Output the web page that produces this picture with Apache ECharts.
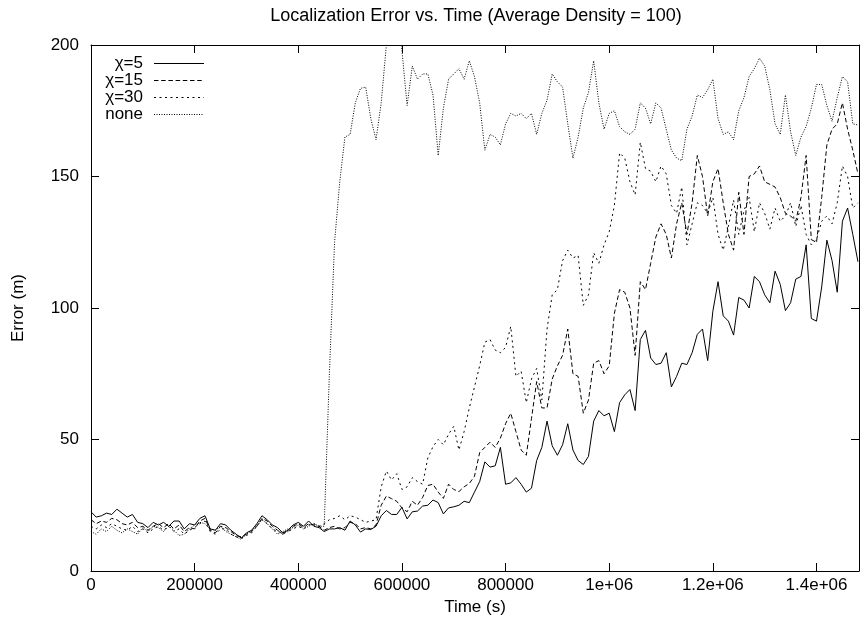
<!DOCTYPE html>
<html>
<head>
<meta charset="utf-8">
<script src="https://cdn.jsdelivr.net/npm/echarts@6/dist/echarts.min.js"></script>
<style>
html,body{margin:0;padding:0;background:#fff;}
#c{width:862px;height:626px;}
</style>
</head>
<body>
<div id="c"></div>
<script>
var titleText = 'Localization Error vs. Time (Average Density = 100)';
var seriesNames = ['χ=5', 'χ=15', 'χ=30', 'none'];
var xTickLabels = ['0', '200000', '400000', '600000', '800000', '1e+06', '1.2e+06', '1.4e+06'];
var yTickLabels = ['0', '50', '100', '150', '200'];
var timeStep = 10000; // sampling interval of the data (s)

var chi5 = [
22.5, 20.5, 21, 22, 21.5, 23.5, 22, 20.5, 21.5, 18.5,
18, 16.5, 18.5, 17.5, 18.5, 17, 19, 19, 16, 18,
17.5, 20, 21, 16, 15.5, 18, 17.5, 15.5, 14, 12.5,
14.5, 15.5, 18, 21, 19.5, 17.5, 16.5, 14.5, 15.5, 17.5,
18.5, 17, 19, 17, 16.5, 15, 16, 16, 16.5, 15.5,
19, 17.5, 14.8, 16, 15.8, 17, 21, 23, 21.5, 21.5,
24.2, 19.8, 22.5, 22.8, 24.7, 25, 27, 26, 21.7, 24,
24.4, 25, 26.5, 26, 30, 34, 41.5, 39.5, 40, 47,
33, 33.5, 35.5, 33, 30, 31.5, 42, 47, 57, 47.6,
44, 48, 56, 46, 42, 40.5, 43.6, 57, 61, 59,
60, 53, 64, 67, 69, 61, 88, 91.5, 81, 78.5,
79, 83, 70, 74, 79, 78.5, 83, 90, 92, 80,
98.8, 110, 97, 95, 89.7, 104, 103, 100, 112, 110,
105, 102, 114, 109, 99, 102, 111, 112, 124, 96,
95, 108, 125.8, 118, 106, 133, 138, 128, 117.6
];

var chi15 = [
19.5, 18, 19, 18.5, 20, 19.5, 18, 17.5, 18.5, 16.5,
17, 15.5, 17, 18, 16.5, 18, 16, 17.5, 15, 16.5,
16, 19, 20, 15.5, 14.5, 17, 16.5, 15, 13.5, 13,
14, 15, 17, 20, 19, 17, 15.5, 14, 15, 17,
18, 16.5, 18, 17.5, 17, 15.5, 16.5, 17, 16, 16.5,
18.5, 18, 16, 16.5, 16, 17.5, 25, 28.5, 27.5, 26.5,
24, 22.5, 26.5, 25, 28, 32.5, 33, 30, 27.6, 33,
31, 30.2, 32, 33.3, 36, 45, 47, 49, 47, 50.5,
56, 60, 53, 46, 44, 58, 72, 62, 62, 73,
78, 82, 92, 75, 74, 60, 65, 79, 80, 75,
78, 98, 107, 106, 100, 82, 110, 107, 117, 127,
132, 128, 119, 132, 140, 128, 140, 158, 150, 135,
148, 153, 140, 128, 122, 144, 128, 150, 151, 154,
148, 147, 146, 142, 136, 135, 133, 142, 158, 126,
125, 142, 162, 168, 170, 178, 168, 160, 151
];

var chi30 = [
17, 16, 17.5, 16.5, 18, 17, 16, 15.5, 17, 15,
16, 14.5, 16, 17, 15.5, 17, 15, 16, 14, 15.5,
16.5, 18, 19, 15, 14, 16, 16, 14, 13, 12.5,
13.5, 14.5, 17, 19.5, 18, 16, 15, 14.5, 15, 16,
17, 16, 17.5, 18, 17, 18, 19.5, 20, 21, 19.5,
21, 20.5, 19.5, 18.5, 19, 19.5, 32, 38, 34.6, 37,
31, 32, 35.5, 34, 33, 43, 47.3, 50, 48, 52,
55, 46, 53, 62, 70, 78, 87, 88, 84, 83,
85, 93, 74, 76, 64, 73, 77, 65, 92, 105,
107, 118, 122, 119, 120, 101, 105, 121, 117, 124,
129, 139, 159, 157, 148, 143, 163, 153, 152, 148,
154, 151, 139, 136, 146, 124, 132, 140, 139, 136,
142, 128, 122, 131, 141, 128, 137, 142, 129, 140,
136, 130, 138, 133, 135, 140, 131, 139, 128, 124,
126, 133, 135, 132, 140, 154, 150, 138, 140
];

var noneS = [
15, 14, 16, 15, 17, 15.5, 14.5, 16, 15, 14,
16.5, 15, 17, 16.5, 15, 17, 15.5, 13.5, 14, 16,
17.5, 18.5, 18, 16, 15.5, 17, 15, 14, 13, 12,
14, 15.5, 17.5, 19.5, 18, 16, 14, 15, 16, 16.5,
17.5, 16, 17, 18, 17, 17, 75, 125, 148, 165,
166, 178, 183.5, 184, 172, 164, 178, 200, 215, 212,
198, 177, 192, 187, 189, 189, 181, 158, 176, 187,
189, 191, 187, 194, 188, 178, 160, 166, 165, 162,
170, 174, 173, 174, 172, 174, 166, 174, 179, 189,
186, 184, 170, 157, 165, 176, 182, 194, 178, 168,
174, 175, 169, 167, 166, 168, 178, 176, 170, 178,
176, 168, 160, 157, 156, 168, 173, 181, 180, 183,
187, 172, 166, 167, 164, 175, 180, 188, 191, 195,
192, 183, 170, 166, 181, 167, 158, 165, 169, 176,
185, 185, 177, 171, 180, 188, 186, 170, 169.6
];

var xMax = 1482000;
var seriesValues = [chi5, chi15, chi30, noneS];
var dashes = ['solid', [4.5, 2.7], [2, 3.5], [1, 1.5]];

function pairs(vals) {
  var out = [];
  for (var i = 0; i < vals.length; i++) out.push([i * timeStep, vals[i]]);
  return out;
}

var FONT = 'Liberation Sans';
var chart = echarts.init(document.getElementById('c'), null, {renderer: 'canvas'});

var series = seriesNames.map(function (n, k) {
  return {
    name: n,
    type: 'line',
    xAxisIndex: 0,
    yAxisIndex: 0,
    data: pairs(seriesValues[k]),
    symbol: 'none',
    showSymbol: false,
    clip: true,
    lineStyle: {color: '#000', width: 1, type: dashes[k]},
    itemStyle: {color: '#000'},
    emphasis: {disabled: true},
    animation: false
  };
});

var baseX = {
  type: 'value', min: 0, max: xMax, interval: 200000,
  splitLine: {show: false},
  axisLine: {show: true, onZero: false, lineStyle: {color: '#000', width: 1}},
  axisTick: {show: true, inside: true, length: 8, lineStyle: {color: '#000'}}
};
var baseY = {
  type: 'value', min: 0, max: 200, interval: 50,
  splitLine: {show: false},
  axisLine: {show: true, onZero: false, lineStyle: {color: '#000', width: 1}},
  axisTick: {show: true, inside: true, length: 8, lineStyle: {color: '#000'}}
};

chart.setOption({
  backgroundColor: '#fff',
  animation: false,
  title: {
    text: titleText, left: 471, top: 2, textAlign: 'center',
    textStyle: {fontFamily: FONT, fontSize: 18, fontWeight: 'normal', color: '#000'}
  },
  grid: {left: 91, right: 3, top: 45, bottom: 55},
  legend: {
    orient: 'vertical', left: 92, top: 50, align: 'right',
    itemWidth: 50, itemHeight: 13, itemGap: 0,
    selectedMode: false,
    data: seriesNames,
    itemStyle: {opacity: 0, borderWidth: 0},
    lineStyle: {width: 1},
    textStyle: {fontFamily: FONT, fontSize: 17, color: '#000', width: 46, align: 'right', padding: [0, 6, 0, 0], lineHeight: 13}
  },
  xAxis: [
    Object.assign({}, baseX, {
      position: 'bottom',
      name: 'Time (s)', nameLocation: 'middle', nameGap: 27,
      nameTextStyle: {fontFamily: FONT, fontSize: 17, color: '#000'},
      axisLabel: {
        show: true, margin: 6, showMaxLabel: false,
        fontFamily: FONT, fontSize: 17, color: '#000',
        formatter: function (v) { var i = Math.round(v / 200000); return (v % 200000 === 0 && xTickLabels[i] !== undefined) ? xTickLabels[i] : ''; }
      }
    }),
    Object.assign({}, baseX, {position: 'top', axisLabel: {show: false}})
  ],
  yAxis: [
    Object.assign({}, baseY, {
      position: 'left',
      name: 'Error (m)', nameLocation: 'middle', nameGap: 64, nameRotate: 90,
      nameTextStyle: {fontFamily: FONT, fontSize: 17, color: '#000'},
      axisLabel: {
        show: true, margin: 12, fontFamily: FONT, fontSize: 17, color: '#000',
        formatter: function (v) { var i = Math.round(v / 50); return yTickLabels[i] !== undefined ? yTickLabels[i] : ''; }
      }
    }),
    Object.assign({}, baseY, {position: 'right', axisLabel: {show: false}})
  ],
  series: series
});
</script>
</body>
</html>
